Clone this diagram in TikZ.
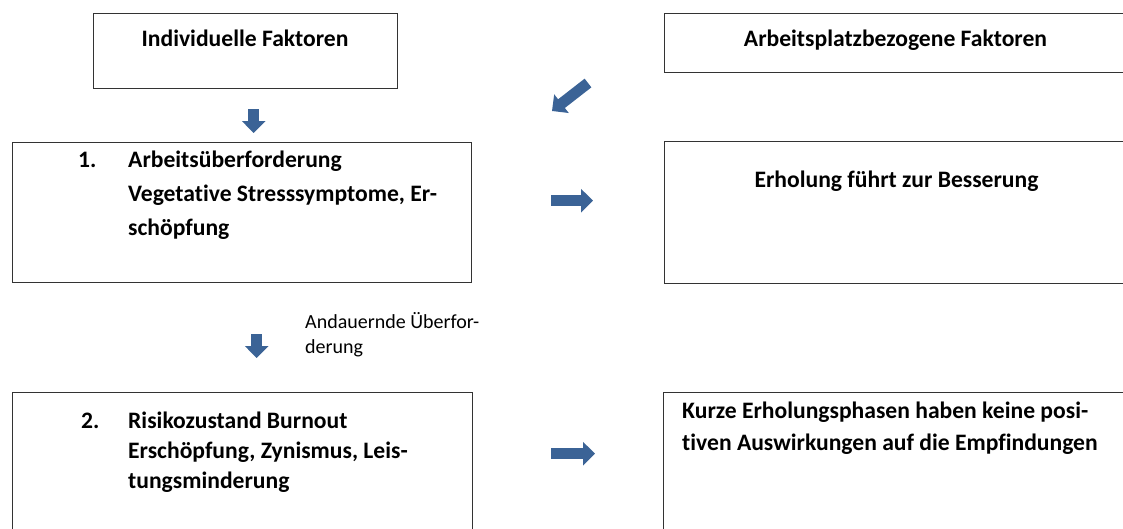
\documentclass[tikz,border=0pt]{standalone}
\usepackage{fontspec}
\setmainfont{Carlito}[Ligatures={NoCommon}]
\usetikzlibrary{arrows.meta}
\definecolor{pfeilblau}{RGB}{59,99,150}

\begin{document}
\begin{tikzpicture}[x=1pt,y=-1pt,
  kasten/.style={draw=black!80,line width=1.3pt,anchor=north west,inner sep=0},
  txt/.style={inner sep=0,font=\fontsize{23.6}{34}\selectfont\bfseries},
  pfeil/.style={draw=pfeilblau,line width=11pt,-{Triangle[width=23pt,length=12pt]}}]
\useasboundingbox (0,0) rectangle (1123,528);

\node[kasten,minimum width=304,minimum height=75] (1) at (93,13) {};
\node[kasten,minimum width=480,minimum height=59] (2) at (664,13) {};
\node[kasten,minimum width=459,minimum height=140] (3) at (12,142) {};
\node[kasten,minimum width=480,minimum height=142] (4) at (664,141) {};
\node[kasten,minimum width=460,minimum height=150] (5) at (12,392) {};
\node[kasten,minimum width=480,minimum height=150] (6) at (663,392) {};

\node[txt,anchor=base] (t1) at (245,46) {Individuelle Faktoren};
\node[txt,anchor=base] (t2) at (895.5,46) {Arbeitsplatzbezogene Faktoren};

\node[txt,anchor=base west] (n3) at (78,167) {1.};
\node[txt,anchor=base west] (t3) at (128,167)
{\parbox[t]{340pt}{\fontsize{23.6}{34}\selectfont Arbeitsüberforderung\\Vegetative Stresssymptome, Er-\\schöpfung}};

\node[txt,anchor=base] (t4) at (896.5,187) {Erholung führt zur Besserung};

\node[txt,anchor=base west] (n5) at (81,428) {2.};
\node[txt,anchor=base west] (t5) at (128,428)
{\parbox[t]{340pt}{\fontsize{23.6}{30}\selectfont Risikozustand Burnout\\Erschöpfung, Zynismus, Leis-\\tungsminderung}};

\node[txt,anchor=base west] (t6) at (682,418)
{\parbox[t]{440pt}{\fontsize{23.6}{32}\selectfont Kurze Erholungsphasen haben keine posi-\\tiven Auswirkungen auf die Empfindungen}};

\node[txt,font=\fontsize{20}{25}\selectfont,anchor=base west] (t7) at (305,328)
{\parbox[t]{200pt}{Andauernde Überfor-\\derung}};

\draw[pfeil,shorten <=20pt,shorten >=9pt] ([xshift=8pt]1.south) -- ([xshift=11.5pt]3.north);

\coordinate (d1) at (588,83);
\coordinate (d2) at (552,111);
\draw[pfeil] (d1) -- (d2);

\draw[pfeil,shorten <=79pt,shorten >=71pt] ([yshift=12pt]3.east) -- ([yshift=12pt]4.west);

\draw[pfeil,shorten <=51pt,shorten >=34pt] ([xshift=14.5pt]3.south) -- ([xshift=14pt]5.north);

\draw[pfeil,shorten <=78pt,shorten >=68pt] ([yshift=14pt]5.east) -- ([yshift=14pt]6.west);
\end{tikzpicture}
\end{document}
